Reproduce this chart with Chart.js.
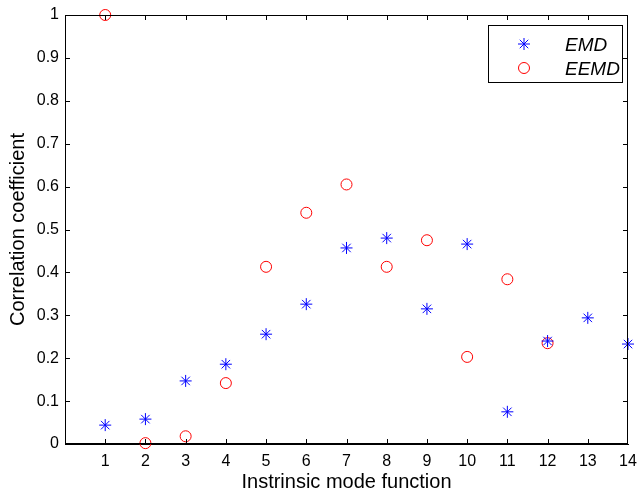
<!DOCTYPE html>
<html lang="en">
<head>
  <meta charset="UTF-8" />
  <title>Correlation coefficient</title>
  <script src="https://cdn.jsdelivr.net/npm/chart.js"></script>
  <style>
    body { margin: 0; background: #fff; }
    #wrap { width: 638px; height: 494px; }
  </style>
</head>
<body>
  <div id="wrap"><canvas id="c"></canvas></div>
  <script>
    // values
    const imfIndex = [1, 2, 3, 4, 5, 6, 7, 8, 9, 10, 11, 12, 13, 14];
    const emdValues = [0.044, 0.058, 0.147, 0.186, 0.256, 0.326, 0.457, 0.480, 0.315, 0.466, 0.075, 0.240, 0.294, 0.233];
    const eemdValues = [1.0, 0.002, 0.018, 0.142, 0.413, 0.539, 0.605, 0.413, 0.475, 0.203, 0.384, 0.235];
    const seriesNames = ['EMD', 'EEMD'];

    const toPoints = vals => vals.map((v, i) => ({ x: imfIndex[i], y: v }));
    const FONT = 'Liberation Sans, Arial, Helvetica, sans-serif';

    // MATLAB-like box with inward ticks, plus boxed legend
    const boxPlugin = {
      id: 'box',
      afterDraw(chart) {
        const ctx = chart.ctx;
        const a = chart.chartArea;
        const xs = chart.scales.x, ys = chart.scales.y;
        ctx.save();
        ctx.strokeStyle = '#000';
        ctx.lineWidth = 1;
        ctx.strokeRect(a.left + 0.5, a.top + 0.5, a.right - a.left - 1, a.bottom - a.top - 1);
        ctx.beginPath();
        const tl = 5;
        for (let v = 1; v < 14; v++) {
          const px = Math.round(xs.getPixelForValue(v)) + 0.5;
          ctx.moveTo(px, a.bottom); ctx.lineTo(px, a.bottom - tl);
          ctx.moveTo(px, a.top); ctx.lineTo(px, a.top + tl);
        }
        for (let k = 1; k < 10; k++) {
          const py = Math.round(ys.getPixelForValue(k / 10)) + 0.5;
          ctx.moveTo(a.left, py); ctx.lineTo(a.left + tl, py);
          ctx.moveTo(a.right, py); ctx.lineTo(a.right - tl, py);
        }
        ctx.stroke();

        // legend
        const lw = 134, lh = 57;
        const lx = a.right - 6 - lw, ly = a.top + 10;
        ctx.fillStyle = '#fff';
        ctx.fillRect(lx, ly, lw, lh);
        ctx.strokeRect(lx + 0.5, ly + 0.5, lw, lh);
        ctx.font = 'italic 19px ' + FONT;
        ctx.textBaseline = 'middle';
        ctx.textAlign = 'left';
        chart.data.datasets.forEach((ds, i) => {
          const cy = ly + 19 + i * 24;
          ctx.fillStyle = ds.backgroundColor;
          ctx.strokeStyle = ds.borderColor;
          ctx.lineWidth = 1;
          Chart.helpers.drawPoint(ctx, {
            pointStyle: ds.pointStyle, radius: ds.pointRadius, rotation: 0, borderWidth: 1
          }, lx + 36, cy);
          ctx.fillStyle = '#000';
          ctx.fillText(ds.label, lx + 77, cy + 2);
        });
        ctx.restore();
      }
    };

    new Chart(document.getElementById('c'), {
      type: 'scatter',
      data: {
        datasets: [
          {
            label: seriesNames[0],
            data: toPoints(emdValues),
            pointStyle: 'star',
            pointRadius: 6,
            borderColor: '#0000ff',
            backgroundColor: '#0000ff',
            borderWidth: 1,
            clip: false
          },
          {
            label: seriesNames[1],
            data: toPoints(eemdValues),
            pointStyle: 'circle',
            pointRadius: 5.5,
            borderColor: '#ff0000',
            backgroundColor: 'rgba(0,0,0,0)',
            borderWidth: 1,
            clip: false
          }
        ]
      },
      options: {
        responsive: true,
        maintainAspectRatio: false,
        animation: false,
        layout: { padding: { left: 0, top: 15, right: 10, bottom: 0 } },
        plugins: {
          legend: { display: false },
          tooltip: { enabled: false }
        },
        scales: {
          x: {
            type: 'linear',
            min: 0,
            max: 14,
            grid: { display: false, drawTicks: false },
            border: { display: true, color: '#000' },
            afterFit: s => { s.height = 50; s.paddingLeft = 0; s.paddingRight = 0; },
            ticks: {
              stepSize: 1,
              padding: 8,
              color: '#000',
              font: { family: FONT, size: 16 },
              callback: v => (v === 0 ? '' : v)
            },
            title: {
              display: true,
              text: 'Instrinsic mode function',
              color: '#000',
              font: { family: FONT, size: 20 },
              padding: { top: 0, bottom: 0 }
            }
          },
          y: {
            min: 0,
            max: 1,
            grid: { display: false, drawTicks: false },
            border: { display: true, color: '#000' },
            afterFit: s => { s.width = 65; s.paddingTop = 0; s.paddingBottom = 0; },
            ticks: {
              stepSize: 0.1,
              padding: 6,
              color: '#000',
              font: { family: FONT, size: 16 },
              callback: v => String(Math.round(v * 10) / 10)
            },
            title: {
              display: true,
              text: 'Correlation coefficient',
              color: '#000',
              font: { family: FONT, size: 20 },
              padding: { top: 6, bottom: 0 }
            }
          }
        }
      },
      plugins: [boxPlugin]
    });
  </script>
</body>
</html>
